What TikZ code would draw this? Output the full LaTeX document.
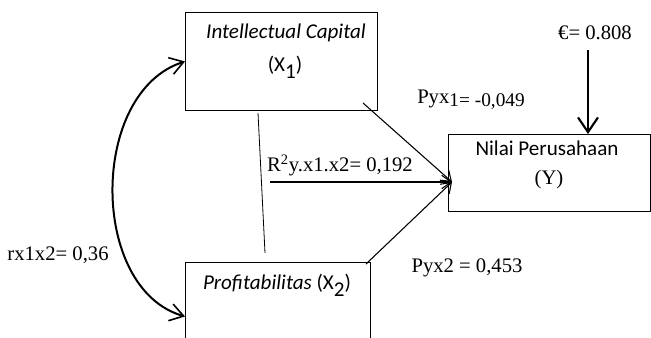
\documentclass[tikz,border=0pt]{standalone}
\usepackage{fontspec}
\setmainfont{Liberation Serif}
\newfontfamily\calibri{Carlito}
\usetikzlibrary{arrows.meta}

\begin{document}
\begin{tikzpicture}[x=0.75pt,y=-0.75pt,
	box/.style={draw,line width=0.7pt,inner sep=0pt,anchor=north west},
	boxtext/.style={font=\calibri\fontsize{15.8}{18}\selectfont,inner sep=0pt},
	coef/.style={font=\fontsize{15.5}{18}\selectfont,inner sep=0pt},
	path/.style={line width=0.8pt,-{Straight Barb[length=7pt,width=10pt,line width=0.8pt]}}]
	\useasboundingbox (0,0) rectangle (651,338);
	% boxes
	\node[box,minimum width=144pt,minimum height=73.5pt] (x1) at (185,12) {};
	\node[box,minimum width=138.75pt,minimum height=81pt] (x2) at (185,262) {};
	\node[box,minimum width=151.5pt,minimum height=57.75pt] (y) at (448,134) {};
	% box texts
	\node[boxtext] (x1name) at (286,33) {\itshape Intellectual Capital};
	\node[boxtext] (x1sym) at (285,67) {(X\raisebox{-5pt}{1})};
	\node[boxtext] (x2name) at (277,285) {\itshape Profitabilitas \upshape(X\raisebox{-5pt}{2})};
	\node[boxtext] (yname) at (547,148) {Nilai Perusahaan};
	\node[coef] (ysym) at (549,180) {(Y)};
	% points
	\coordinate (yin) at (452,182);
	\coordinate (x1out) at (363,103);
	\coordinate (x2out) at (366,264);
	\coordinate (rstart) at (270,182);
	\coordinate (epsstart) at (588,50);
	\coordinate (epsend) at (588,134);
	\coordinate (ltop) at (258,113);
	\coordinate (lbot) at (265,253);
	% connectors
	\draw[path] (x1out) -- (yin);
	\draw[path] (x2out) -- (yin);
	\draw[path] (rstart) -- (yin);
	\draw[line width=0.6pt] (ltop) -- (lbot);
	\draw[line width=1.9pt,-{Straight Barb[length=11pt,width=15pt,line width=1.6pt]}] (epsstart) -- (epsend);
	\draw[line width=1.5pt,{Straight Barb[length=10pt,width=13pt,line width=1.2pt]}-{Straight Barb[length=10pt,width=13pt,line width=1.2pt]}]
		(x1.west) .. controls (89,92) and (89,289) .. (x2.west);
	% labels
	\node[coef] (eps) at (595,33) {€= 0.808};
	\node[coef] (pyx1) at (471,100) {Pyx\raisebox{-2pt}{\fontsize{14.5}{16}\selectfont 1= -0,049}};
	\node[coef] (rsq) at (340,165) {R\textsuperscript{2}y.x1.x2= 0,192};
	\node[coef] (pyx2) at (467,268) {Pyx2 = 0,453};
	\node[coef] (rx) at (58,255) {rx1x2= 0,36};
\end{tikzpicture}
\end{document}
